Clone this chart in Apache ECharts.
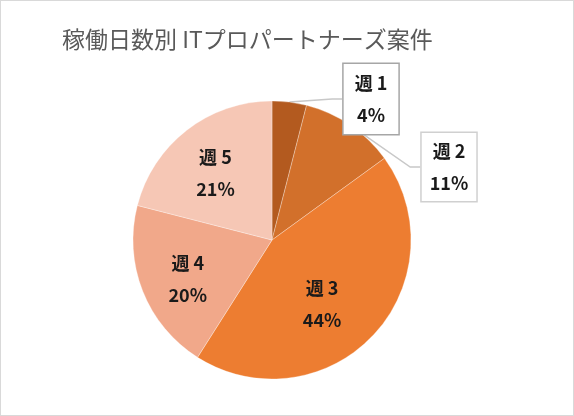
<!DOCTYPE html>
<html>
<head>
<meta charset="utf-8">
<script src="https://cdn.jsdelivr.net/npm/echarts@6/dist/echarts.min.js"></script>
<style>
    html, body { margin: 0; padding: 0; background: #fff; }
    #pieChart { width: 574px; height: 416px; box-sizing: border-box; border: 1px solid #d9d9d9; }
</style>
</head>
<body>
<div id="pieChart"></div>
<script>
// データ
var categories = ['週 1', '週 2', '週 3', '週 4', '週 5'];
var shares = [4, 11, 44, 20, 21];
var sliceColors = ['#b35a1f', '#d2702b', '#ed7d31', '#f1a88a', '#f6c7b5'];

// 円の中心と半径 (canvas 座標)
var cx = 271, cy = 239, R = 139;

// 吹き出しラベルの位置 (週1, 週2)
var callouts = {
    0: { x: 370, y: 98, padding: [3, 11], borderColor: '#a6a6a6' },
    1: { x: 448, y: 166, padding: [2, 8], borderColor: '#d0d0d0' }
};
// 内側ラベルの微調整
var nudges = { 2: [-16, 2], 3: [0, 6], 4: [-1, 5] };

var pieData = [];
for (var i = 0; i < categories.length; i++) {
    var item = {
        name: categories[i],
        value: shares[i],
        itemStyle: { color: sliceColors[i] }
    };
    if (callouts[i]) {
        item.label = {
            position: 'outside',
            backgroundColor: '#fff',
            borderColor: callouts[i].borderColor,
            borderWidth: 1.5,
            padding: callouts[i].padding
        };
        item.labelLine = {
            show: true,
            length: 10,
            length2: 10,
            lineStyle: { color: '#c8c8c8', width: 1.5 }
        };
    }
    pieData.push(item);
}

var myChart = echarts.init(document.getElementById('pieChart'));
var option = {
    animation: false,
    title: {
        text: '稼働日数別 ITプロパートナーズ案件',
        left: 61,
        top: 27,
        padding: 0,
        textStyle: {
            fontFamily: 'Noto Sans CJK JP',
            fontSize: 23,
            fontWeight: 'normal',
            color: '#595959'
        }
    },
    series: [
        {
            type: 'pie',
            center: [cx, cy],
            radius: R,
            startAngle: 90,
            clockwise: true,
            avoidLabelOverlap: false,
            itemStyle: {
                borderColor: 'rgba(255,255,255,0.6)',
                borderWidth: 0.5
            },
            label: {
                show: true,
                position: 'inside',
                formatter: function (p) {
                    return p.name + '\n' + Math.round(p.percent) + '%';
                },
                fontFamily: 'Noto Sans CJK JP',
                fontSize: 18,
                fontWeight: 'bold',
                lineHeight: 32,
                color: '#1a1a1a',
                align: 'center'
            },
            labelLine: { show: false },
            labelLayout: function (params) {
                var i = params.dataIndex;
                var c = callouts[i];
                if (c) {
                    return { x: c.x, y: c.y, align: 'center', verticalAlign: 'middle' };
                }
                // 内側ラベルを少し外へ
                var r = params.labelRect;
                var lx = r.x + r.width / 2, ly = r.y + r.height / 2;
                var k = 1.25;
                var n = nudges[i] || [0, 0];
                return {
                    x: cx + (lx - cx) * k + n[0],
                    y: cy + (ly - cy) * k + n[1],
                    align: 'center',
                    verticalAlign: 'middle'
                };
            },
            data: pieData
        }
    ]
};
myChart.setOption(option);
</script>
</body>
</html>
